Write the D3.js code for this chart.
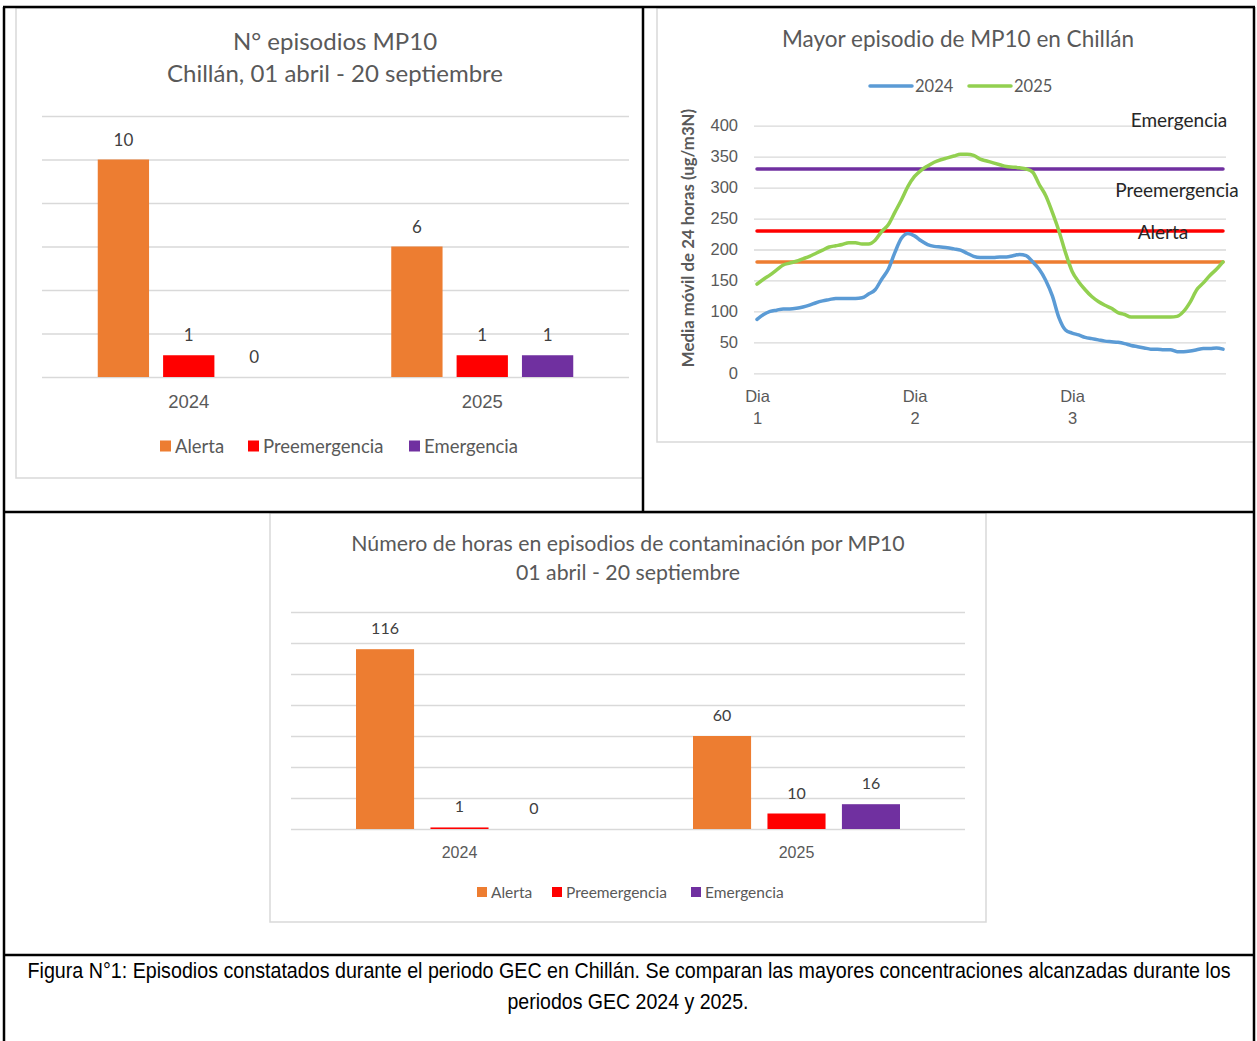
<!DOCTYPE html>
<html>
<head>
  <meta charset="utf-8">
  <title>Episodios MP10 Chillán</title>
  <script src="https://cdnjs.cloudflare.com/ajax/libs/d3/7.8.5/d3.min.js"></script>
  <style>
    body { margin: 0; background: #fff; }
    svg { display: block; font-family: Lato, "Open Sans", sans-serif; }
    .grid line { stroke: #d9d9d9; stroke-width: 1.3; }
    .frame { fill: none; stroke: #d9d9d9; stroke-width: 1.5; }
    .tbl { stroke: #000; stroke-width: 2.5; }
  </style>
</head>
<body>
<svg id="fig" width="1257" height="1041"></svg>
<script>
// --- data ---
var years = ["2024", "2025"];
var levels = ["Alerta", "Preemergencia", "Emergencia"];
var levelColors = ["#ED7D31", "#FF0000", "#7030A0"];

// N° episodios (per year: Alerta, Preemergencia, Emergencia)
var episodes2024 = [10, 1, 0];
var episodes2025 = [6, 1, 1];
var episodeTicks = [0, 2, 4, 6, 8, 10, 12];

// horas en episodios
var hours2024 = [116, 1, 0];
var hours2025 = [60, 10, 16];
var hourTicks = [0, 20, 40, 60, 80, 100, 120, 140];

// mayor episodio, media movil 24 h, hourly over 3 days
var mp10_2024 = [87, 95, 100, 102, 104, 104, 105, 107, 110, 114, 117, 119, 121, 121, 121, 121, 122, 128, 135, 152, 168, 195, 218, 226,
  222, 214, 208, 205, 204, 203, 201, 199, 194, 189, 187, 187, 187, 188, 188, 190, 192, 190, 180, 168, 150, 125, 90, 70,
  65, 62, 58, 56, 54, 52, 51, 50, 48, 45, 43, 41, 39, 39, 38, 38, 35, 35, 36, 38, 40, 40, 41, 39];
var mp10_2025 = [144, 152, 159, 167, 175, 178, 181, 185, 189, 194, 199, 204, 206, 208, 211, 211, 209, 209, 215, 229, 240, 260, 280, 302,
  318, 328, 335, 341, 345, 348, 351, 354, 354, 352, 346, 343, 340, 337, 334, 333, 332, 330, 325, 305, 287, 260, 230, 195,
  165, 148, 135, 124, 116, 110, 105, 98, 95, 91, 91, 91, 91, 91, 91, 91, 92, 100, 115, 135, 146, 158, 168, 180];
var seriesNames = ["2024", "2025"];
var seriesColors = ["#5B9BD5", "#92D050"];
var lineTicks = [0, 50, 100, 150, 200, 250, 300, 350, 400];
var dayTicks = [0, 24, 48];
var dayLabels = ["Dia 1", "Dia 2", "Dia 3"];
var thresholdValues = [180, 230, 330];
var thresholdColors = ["#ED7D31", "#FF0000", "#7030A0"];
var annotationText = ["Emergencia", "Preemergencia", "Alerta"];
var annotationLevel = [409, 296, 227];

var caption1 = "Figura N°1: Episodios constatados durante el periodo GEC en Chillán. Se comparan las mayores concentraciones alcanzadas durante los";
var caption2 = "periodos GEC 2024 y 2025.";

var svg = d3.select("#fig");
svg.append("rect").attr("width", 1257).attr("height", 1041).attr("fill", "#fff");

// grouped bar chart helper
function barChart(o) {
  var g = svg.append("g");
  g.append("rect").attr("class", "frame")
    .attr("x", o.frame[0]).attr("y", o.frame[1]).attr("width", o.frame[2]).attr("height", o.frame[3]);

  o.title.forEach(function (t, i) {
    g.append("text").attr("x", o.titleX).attr("y", o.titleY + i * o.titleGap)
      .attr("text-anchor", "middle").attr("fill", "#595959").attr("font-size", o.titleSize).text(t);
  });

  var x0 = d3.scaleBand().domain(years).range([o.left, o.right]);
  var y = d3.scaleLinear().domain([0, d3.max(o.ticks)]).range([o.bottom, o.top]);

  g.append("g").attr("class", "grid")
    .attr("transform", "translate(" + o.left + ",0)")
    .call(d3.axisLeft(y).tickValues(o.ticks).tickSize(-(o.right - o.left)).tickFormat(""))
    .call(function (a) { a.select(".domain").remove(); });

  var rows = [o.values[0], o.values[1]];
  years.forEach(function (yr, yi) {
    var c = x0(yr) + x0.bandwidth() / 2;
    var x1 = d3.scaleBand().domain(levels)
      .range([c - o.groupW / 2, c + o.groupW / 2]).paddingInner(o.pad);
    var grp = g.append("g");
    grp.selectAll("rect").data(rows[yi]).join("rect")
      .attr("x", function (d, i) { return x1(levels[i]); })
      .attr("y", function (d) { return y(d); })
      .attr("width", x1.bandwidth())
      .attr("height", function (d) { return y(0) - y(d); })
      .attr("fill", function (d, i) { return levelColors[i]; });
    grp.selectAll("text").data(rows[yi]).join("text")
      .attr("x", function (d, i) { return x1(levels[i]) + x1.bandwidth() / 2; })
      .attr("y", function (d) { return y(d) - o.labelOff; })
      .attr("text-anchor", "middle").attr("fill", "#404040").attr("font-size", o.fs)
      .text(function (d) { return d; });
  });

  g.append("g").attr("transform", "translate(0," + o.bottom + ")")
    .call(d3.axisBottom(x0).tickSize(0).tickPadding(o.catPad))
    .call(function (a) {
      a.select(".domain").remove();
      a.selectAll("text").attr("fill", "#595959").attr("font-size", o.catFs).attr("font-family", null);
    });

  var lg = g.append("g");
  levels.forEach(function (lv, i) {
    lg.append("rect").attr("x", o.legendX[i]).attr("y", o.legendY - o.mk / 2 - 1)
      .attr("width", o.mk).attr("height", o.mk).attr("fill", levelColors[i]);
    lg.append("text").attr("x", o.legendX[i] + o.mk + 4).attr("y", o.legendY + o.legFs * 0.35)
      .attr("fill", "#595959").attr("font-size", o.legFs).text(lv);
  });
}

barChart({
  frame: [16, 8, 627, 470],
  title: ["N° episodios MP10", "Chillán, 01 abril - 20 septiembre"],
  titleX: 335, titleY: 50, titleGap: 32, titleSize: 24,
  left: 42, right: 629, top: 116, bottom: 377,
  ticks: episodeTicks, values: [episodes2024, episodes2025],
  groupW: 182, pad: 0.215, labelOff: 14, fs: 17, catFs: 18.5, catPad: 18,
  legendX: [160, 248, 409], legendY: 447, mk: 11, legFs: 18.5
});

barChart({
  frame: [270, 513, 716, 409],
  title: ["Número de horas en episodios de contaminación por MP10", "01 abril - 20 septiembre"],
  titleX: 628, titleY: 551, titleGap: 29, titleSize: 21.3,
  left: 291, right: 965, top: 612, bottom: 829,
  ticks: hourTicks, values: [hours2024, hours2025],
  groupW: 207, pad: 0.22, labelOff: 15, fs: 16, catFs: 16, catPad: 18,
  legendX: [477, 552, 691], legendY: 893, mk: 10, legFs: 15.5
});

// line chart
(function () {
  var g = svg.append("g");
  g.append("rect").attr("class", "frame").attr("x", 657).attr("y", 8).attr("width", 597).attr("height", 434);
  g.append("text").attr("x", 958).attr("y", 47).attr("text-anchor", "middle")
    .attr("fill", "#595959").attr("font-size", 22.5).text("Mayor episodio de MP10 en Chillán");

  var idx = d3.range(mp10_2024.length);
  var x = d3.scalePoint().domain(idx).range([757, 1223]);
  var y = d3.scaleLinear().domain([0, 400]).range([373.3, 125.7]);

  g.append("g").attr("class", "grid")
    .attr("transform", "translate(754,0)")
    .call(d3.axisLeft(y).tickValues(lineTicks).tickSize(-472).tickFormat(""))
    .call(function (a) { a.select(".domain").remove(); });

  g.append("g").attr("transform", "translate(740,0)")
    .call(d3.axisLeft(y).tickValues(lineTicks).tickSize(0).tickPadding(2))
    .call(function (a) {
      a.select(".domain").remove();
      a.selectAll("text").attr("fill", "#595959").attr("font-size", 16.5).attr("font-family", null);
    });

  g.append("text").attr("transform", "translate(694,238) rotate(-90)")
    .attr("text-anchor", "middle").attr("fill", "#595959").attr("font-size", 16.8).attr("font-weight", "bold")
    .text("Media móvil de 24 horas (ug/m3N)");

  var xa = g.append("g").attr("transform", "translate(0,373)")
    .call(d3.axisBottom(x).tickValues(dayTicks).tickSize(0).tickFormat(""));
  xa.select(".domain").remove();
  xa.selectAll(".tick").each(function (d, i) {
    var parts = dayLabels[i].split(" ");
    var t = d3.select(this).append("text").attr("fill", "#595959").attr("font-size", 16.5)
      .attr("text-anchor", "middle");
    t.append("tspan").attr("x", 0).attr("y", 29).text(parts[0]);
    t.append("tspan").attr("x", 0).attr("y", 51).text(parts[1]);
  });

  var line = d3.line().x(function (d, i) { return x(i); }).y(function (d) { return y(d); }).curve(d3.curveMonotoneX);

  thresholdValues.forEach(function (v, i) {
    g.append("path").datum(idx.map(function () { return v; }))
      .attr("d", line).attr("fill", "none").attr("stroke", thresholdColors[i])
      .attr("stroke-width", 3.5).attr("stroke-linecap", "round");
  });
  [mp10_2024, mp10_2025].forEach(function (s, i) {
    g.append("path").datum(s).attr("d", line).attr("fill", "none")
      .attr("stroke", seriesColors[i]).attr("stroke-width", 3.5)
      .attr("stroke-linecap", "round").attr("stroke-linejoin", "round");
  });

  var annotationX = [1179, 1177, 1163];
  annotationText.forEach(function (t, i) {
    g.append("text").attr("x", annotationX[i]).attr("y", y(annotationLevel[i]) + 6.5).attr("text-anchor", "middle")
      .attr("fill", "#262626").attr("font-size", 19).text(t);
  });

  var lx = [870, 969];
  seriesNames.forEach(function (n, i) {
    g.append("line").attr("x1", lx[i]).attr("x2", lx[i] + 42).attr("y1", 86).attr("y2", 86)
      .attr("stroke", seriesColors[i]).attr("stroke-width", 3.5).attr("stroke-linecap", "round");
    g.append("text").attr("x", lx[i] + 45).attr("y", 91.5).attr("fill", "#595959").attr("font-size", 16.5).text(n);
  });
})();

// table borders
var tb = svg.append("g").attr("class", "tbl");
[[3, 7, 1255, 7], [3, 512, 1255, 512], [3, 955, 1255, 955],
 [4, 7, 4, 1041], [1254, 7, 1254, 1041], [643, 7, 643, 512]].forEach(function (l) {
  tb.append("line").attr("x1", l[0]).attr("y1", l[1]).attr("x2", l[2]).attr("y2", l[3]);
});

// caption (narrow look: smaller font stretched vertically)
var cap = svg.append("g").attr("font-family", "'Liberation Sans Narrow', 'Arial Narrow', 'Liberation Sans', sans-serif")
  .attr("font-size", 18.5).attr("fill", "#000").attr("text-anchor", "middle");
cap.append("text").attr("transform", "translate(629,978) scale(1,1.19)").attr("textLength", 1203)
  .attr("lengthAdjust", "spacingAndGlyphs").text(caption1);
cap.append("text").attr("transform", "translate(628,1009) scale(1,1.19)").attr("textLength", 241)
  .attr("lengthAdjust", "spacingAndGlyphs").text(caption2);
</script>
</body>
</html>
